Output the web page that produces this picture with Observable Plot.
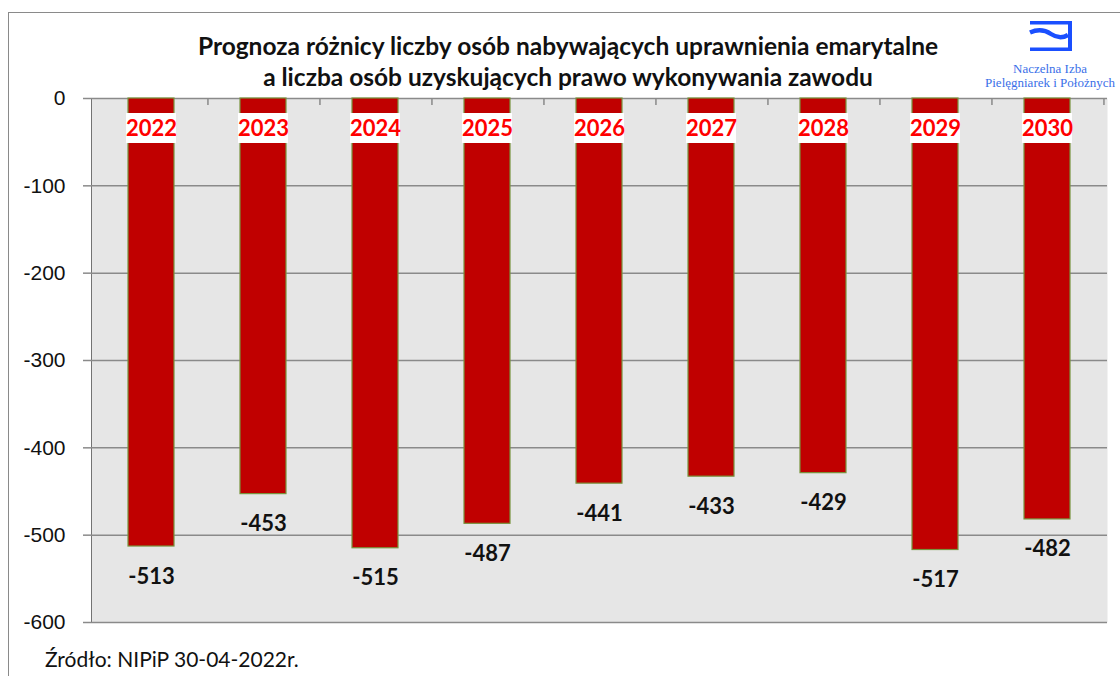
<!DOCTYPE html>
<html>
<head>
<meta charset="utf-8">
<script src="https://cdn.jsdelivr.net/npm/d3@7"></script>
<script src="https://cdn.jsdelivr.net/npm/@observablehq/plot@0.6"></script>
<style>
  html, body { margin: 0; padding: 0; background: #fff; }
  #wrap { position: relative; width: 1120px; height: 676px; overflow: hidden; font-family: Lato, "Noto Sans", sans-serif; }
  #wrap svg.plot { position: absolute; left: 0; top: 0; }
  #border { position: absolute; left: 8px; top: 12px; width: 1200px; height: 800px; border: 1.5px solid #8a8a8a; box-sizing: border-box; }
  #title { position: absolute; left: 120px; width: 896px; top: 30px; text-align: center; font-weight: 700; font-size: 24.5px; line-height: 31px; color: #111; }
  #logo { position: absolute; left: 975px; top: 20px; width: 150px; text-align: center; }
  #logo .t { font-family: "Liberation Serif", "DejaVu Serif", serif; font-size: 13px; line-height: 14px; color: #3a6fe8; }
  #caption { position: absolute; left: 45px; top: 646px; font-size: 21px; color: #111; }
</style>
</head>
<body>
<div id="wrap">
  <div id="border"></div>
  <div id="title">Prognoza różnicy liczby osób nabywających uprawnienia emarytalne<br>a liczba osób uzyskujących prawo wykonywania zawodu</div>
  <div id="logo">
    <svg width="44" height="32" viewBox="0 0 44 32" style="display:block;margin:0 auto 0 auto;position:relative;left:1px">
      <path d="M1 1 H43 V31 H1 V27.5 H39 V4.5 H1 Z" fill="#1a4fff"/>
      <path d="M1 12.5 C 9 9, 16 10, 22 14 C 28 18, 34 18, 39 15" fill="none" stroke="#1a4fff" stroke-width="4.5"/>
    </svg>
    <div class="t" style="margin-top:10px">Naczelna Izba</div>
    <div class="t">Pielęgniarek i Położnych</div>
  </div>
  <div id="caption">Źródło: NIPiP 30-04-2022r.</div>
</div>
<script>
const years = ["2022","2023","2024","2025","2026","2027","2028","2029","2030"];
const values = [-513,-453,-515,-487,-441,-433,-429,-517,-482];
const yTicks = [0,-100,-200,-300,-400,-500,-600];

const data = years.map((year, i) => ({year, value: values[i]}));

const W = 1120, H = 676, mL = 91, mR = 13, mT = 98, mB = 54;
const step = (W - mL - mR) / years.length;

const chart = Plot.plot({
  width: W,
  height: H,
  marginLeft: mL,
  marginRight: mR,
  marginTop: mT,
  marginBottom: mB,
  style: {fontFamily: "Lato, 'Noto Sans', sans-serif", background: "transparent", overflow: "visible"},
  x: {domain: years, paddingInner: 0.59, paddingOuter: 0.295, axis: null},
  y: {domain: [-600, 0], ticks: yTicks, tickFormat: d => String(d), tickSize: 8, tickPadding: 18, label: null, line: true},
  marks: [
    Plot.frame({fill: "#e6e6e6", stroke: "none"}),
    Plot.ruleY(yTicks, {stroke: "#8a8a8a", strokeWidth: 1.5}),
    Plot.ruleX(years, {x: d => d, y1: 0, y2: 0, insetBottom: -7, dx: step / 2, stroke: "#8a8a8a", strokeWidth: 1.5}),
    Plot.barY(data, {x: "year", y: "value", fill: "#c00000", stroke: "#77933c", strokeWidth: 1.2}),
    Plot.barY(data, {x: "year", y1: 0, y2: 0, insetTop: 15, insetBottom: -45, insetLeft: -2, insetRight: -2, fill: "#fff"}),
    Plot.text(data, {x: "year", frameAnchor: "top", lineAnchor: "middle", dy: 30, text: "year", fill: "#ff0000", fontWeight: 700, fontSize: 22}),
    Plot.text(data, {x: "year", y: "value", lineAnchor: "middle", dy: 30, text: d => String(d.value), fill: "#111", fontWeight: 700, fontSize: 22})
  ]
});
chart.classList.add("plot");
chart.querySelectorAll('g[aria-label="y-axis tick label"]').forEach(el => {
  el.setAttribute("font-size", "21");
  el.style.fontSize = "21px";
  el.style.fontFamily = "'Liberation Sans', Arial, sans-serif";
  el.setAttribute("fill", "#111");
});
chart.querySelectorAll('g[aria-label="y-axis tick"], g[aria-label="y-axis line"]').forEach(el => {
  el.setAttribute("stroke", "#8a8a8a");
  el.setAttribute("stroke-width", "1.5");
});
document.getElementById("wrap").appendChild(chart);
</script>
</body>
</html>
